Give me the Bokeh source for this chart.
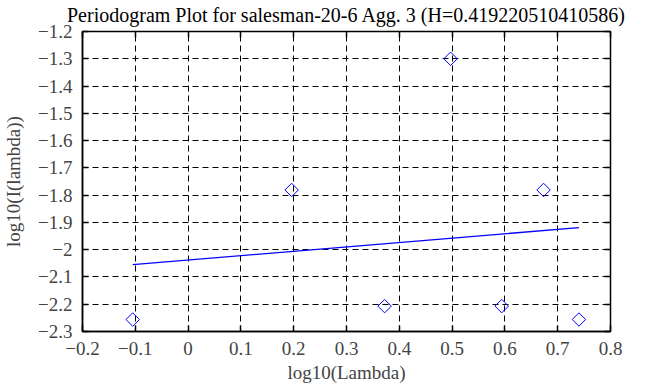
import math
from bokeh.plotting import figure
from bokeh.models import LinearAxis, Range1d, FixedTicker
from bokeh.embed import file_html
from bokeh.resources import INLINE

# Data
log_lambda = [-0.1049, 0.1961, 0.3722, 0.4971, 0.5940, 0.6732, 0.7402]
log_periodogram = [-2.256, -1.781, -2.207, -1.300, -2.207, -1.781, -2.256]
fit_x = [-0.1049, 0.7402]
fit_y = [-2.055, -1.919]
x_ticks = [-0.2, -0.1, 0, 0.1, 0.2, 0.3, 0.4, 0.5, 0.6, 0.7, 0.8]
y_ticks = [-2.3, -2.2, -2.1, -2.0, -1.9, -1.8, -1.7, -1.6, -1.5, -1.4, -1.3, -1.2]
title_text = "Periodogram Plot for salesman-20-6 Agg. 3 (H=0.419220510410586)"

FONT = "Liberation Serif"

p = figure(width=668, height=387, output_backend="svg", toolbar_location=None,
           x_range=Range1d(-0.2, 0.8), y_range=Range1d(-2.3, -1.2),
           min_border_left=82, min_border_right=58, min_border_top=31,
           min_border_bottom=56, x_axis_label="log10(Lambda)",
           y_axis_label="log10(I(lambda))")

p.outline_line_color = "black"
p.outline_line_width = 1.5
p.background_fill_color = "white"
p.border_fill_color = "white"

xt = FixedTicker(ticks=x_ticks)
yt = FixedTicker(ticks=y_ticks)

for ax in (p.xaxis[0], p.yaxis[0]):
    ax.major_tick_in = 6
    ax.major_tick_out = 0
    ax.minor_tick_line_color = None
    ax.axis_line_width = 1.5
    ax.major_tick_line_width = 1.5
    ax.major_label_text_font = FONT
    ax.major_label_text_font_size = "19px"
    ax.axis_label_text_font = FONT
    ax.axis_label_text_font_size = "19px"
    ax.axis_label_text_font_style = "normal"
p.xaxis[0].ticker = xt
p.yaxis[0].ticker = yt
p.xaxis[0].major_label_standoff = 10
p.xaxis[0].axis_label_standoff = 4
p.yaxis[0].major_label_standoff = 10
p.yaxis[0].axis_label_standoff = 11

# Top axis: inward ticks only, with the chart title as its label
top = LinearAxis(ticker=xt, major_tick_in=6, major_tick_out=0,
                 minor_tick_line_color=None, major_label_text_font_size="1px",
                 major_label_text_color=None, axis_line_color=None,
                 major_tick_line_width=1.5, major_label_standoff=0,
                 axis_label=title_text, axis_label_standoff=6,
                 axis_label_text_font=FONT, axis_label_text_font_size="20px",
                 axis_label_text_font_style="normal",
                 axis_label_text_color="black")
right = LinearAxis(ticker=yt, major_tick_in=6, major_tick_out=0,
                   minor_tick_line_color=None, major_label_text_font_size="1px",
                   major_label_text_color=None, axis_line_color=None,
                   major_tick_line_width=1.5, major_label_standoff=0,
                   axis_label_standoff=0)
p.add_layout(top, "above")
p.add_layout(right, "right")

p.xgrid.ticker = xt
p.ygrid.ticker = yt
for g in (p.xgrid[0], p.ygrid[0]):
    g.grid_line_color = "black"
    g.grid_line_dash = "6 4"
    g.grid_line_width = 1
    g.grid_line_alpha = 1

p.line(fit_x, fit_y, line_color="blue", line_width=1.3)
p.scatter(log_lambda, log_periodogram, marker="square", angle=math.pi / 4,
          size=9.5, fill_color=None, line_color="blue", line_width=1)

open("out.html", "w").write(file_html(p, INLINE))
